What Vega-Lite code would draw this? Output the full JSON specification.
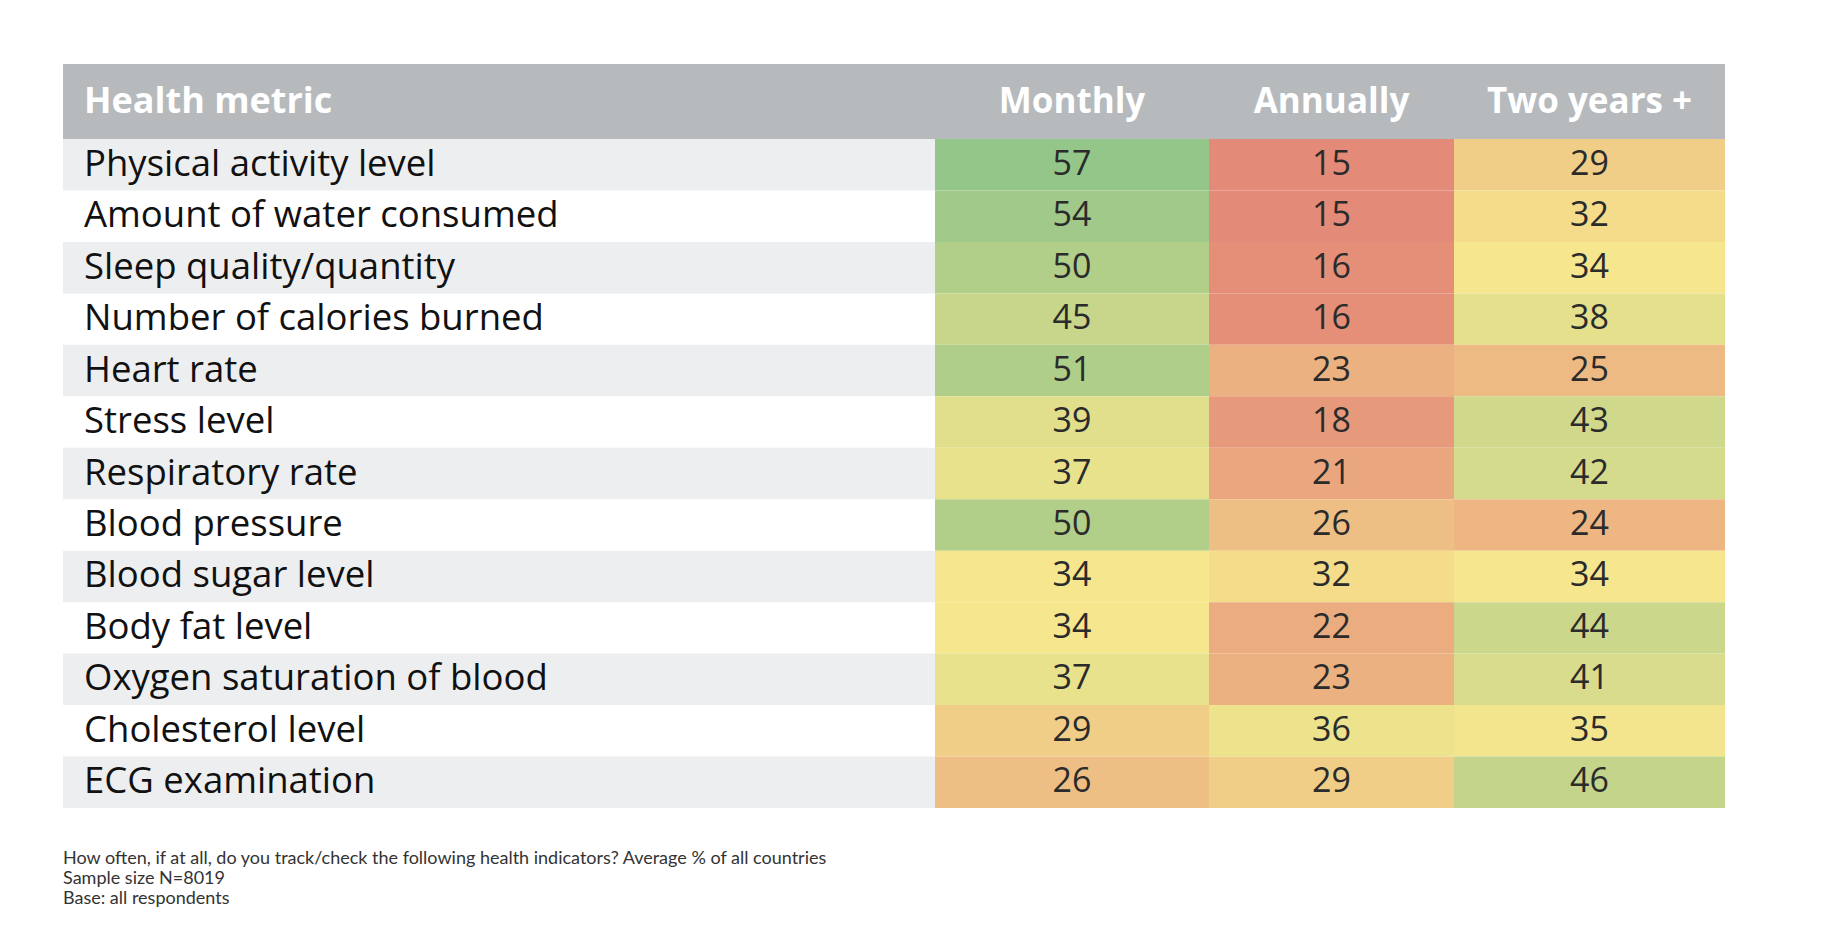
{
  "$schema": "https://vega.github.io/schema/vega-lite/v6.json",
  "padding": {"left": 63, "top": 64, "right": 0, "bottom": 0},
  "background": "white",
  "config": {"view": {"stroke": null}, "concat": {"spacing": 0}},
  "title": {
    "text": ["How often, if at all, do you track/check the following health indicators? Average % of all countries", "Sample size N=8019", "Base: all respondents"],
    "orient": "bottom",
    "anchor": "start",
    "font": "Lato",
    "fontSize": 18,
    "fontWeight": "normal",
    "color": "#333333",
    "lineHeight": 20,
    "offset": 42
  },
  "datasets": {
    "cells": [
      {"metric": "Physical activity level", "period": "Monthly", "value": 57},
      {"metric": "Physical activity level", "period": "Annually", "value": 15},
      {"metric": "Physical activity level", "period": "Two years +", "value": 29},
      {"metric": "Amount of water consumed", "period": "Monthly", "value": 54},
      {"metric": "Amount of water consumed", "period": "Annually", "value": 15},
      {"metric": "Amount of water consumed", "period": "Two years +", "value": 32},
      {"metric": "Sleep quality/quantity", "period": "Monthly", "value": 50},
      {"metric": "Sleep quality/quantity", "period": "Annually", "value": 16},
      {"metric": "Sleep quality/quantity", "period": "Two years +", "value": 34},
      {"metric": "Number of calories burned", "period": "Monthly", "value": 45},
      {"metric": "Number of calories burned", "period": "Annually", "value": 16},
      {"metric": "Number of calories burned", "period": "Two years +", "value": 38},
      {"metric": "Heart rate", "period": "Monthly", "value": 51},
      {"metric": "Heart rate", "period": "Annually", "value": 23},
      {"metric": "Heart rate", "period": "Two years +", "value": 25},
      {"metric": "Stress level", "period": "Monthly", "value": 39},
      {"metric": "Stress level", "period": "Annually", "value": 18},
      {"metric": "Stress level", "period": "Two years +", "value": 43},
      {"metric": "Respiratory rate", "period": "Monthly", "value": 37},
      {"metric": "Respiratory rate", "period": "Annually", "value": 21},
      {"metric": "Respiratory rate", "period": "Two years +", "value": 42},
      {"metric": "Blood pressure", "period": "Monthly", "value": 50},
      {"metric": "Blood pressure", "period": "Annually", "value": 26},
      {"metric": "Blood pressure", "period": "Two years +", "value": 24},
      {"metric": "Blood sugar level", "period": "Monthly", "value": 34},
      {"metric": "Blood sugar level", "period": "Annually", "value": 32},
      {"metric": "Blood sugar level", "period": "Two years +", "value": 34},
      {"metric": "Body fat level", "period": "Monthly", "value": 34},
      {"metric": "Body fat level", "period": "Annually", "value": 22},
      {"metric": "Body fat level", "period": "Two years +", "value": 44},
      {"metric": "Oxygen saturation of blood", "period": "Monthly", "value": 37},
      {"metric": "Oxygen saturation of blood", "period": "Annually", "value": 23},
      {"metric": "Oxygen saturation of blood", "period": "Two years +", "value": 41},
      {"metric": "Cholesterol level", "period": "Monthly", "value": 29},
      {"metric": "Cholesterol level", "period": "Annually", "value": 36},
      {"metric": "Cholesterol level", "period": "Two years +", "value": 35},
      {"metric": "ECG examination", "period": "Monthly", "value": 26},
      {"metric": "ECG examination", "period": "Annually", "value": 29},
      {"metric": "ECG examination", "period": "Two years +", "value": 46}
    ]
  },
  "vconcat": [
    {
      "hconcat": [
        {
          "width": 872, "height": 75,
          "view": {"fill": "#b6babd"},
          "data": {"values": [{"h": "Health metric"}]},
          "mark": {"type": "text", "align": "left", "baseline": "middle", "dx": 21, "font": "Open Sans", "fontWeight": "bold", "fontSize": 36, "color": "white"},
          "encoding": {
            "x": {"datum": 0, "type": "quantitative", "scale": {"domain": [0, 1]}, "axis": null},
            "text": {"field": "h"}
          }
        },
        {
          "width": 274, "height": 75,
          "view": {"fill": "#b6babd"},
          "data": {"values": [{"h": "Monthly"}]},
          "mark": {"type": "text", "align": "center", "baseline": "middle", "font": "Open Sans", "fontWeight": "bold", "fontSize": 35, "color": "white"},
          "encoding": {"text": {"field": "h"}}
        },
        {
          "width": 245, "height": 75,
          "view": {"fill": "#b6babd"},
          "data": {"values": [{"h": "Annually"}]},
          "mark": {"type": "text", "align": "center", "baseline": "middle", "font": "Open Sans", "fontWeight": "bold", "fontSize": 35, "color": "white"},
          "encoding": {"text": {"field": "h"}}
        },
        {
          "width": 271, "height": 75,
          "view": {"fill": "#b6babd"},
          "data": {"values": [{"h": "Two years +"}]},
          "mark": {"type": "text", "align": "center", "baseline": "middle", "font": "Open Sans", "fontWeight": "bold", "fontSize": 35, "color": "white"},
          "encoding": {"text": {"field": "h"}}
        }
      ]
    },
    {
      "hconcat": [
        {
          "width": 872, "height": 669,
          "data": {"name": "cells"},
          "transform": [{"filter": "datum.period === 'Monthly'"}],
          "encoding": {
            "y": {"field": "metric", "type": "nominal", "axis": null,
                  "sort": ["Physical activity level", "Amount of water consumed", "Sleep quality/quantity", "Number of calories burned", "Heart rate", "Stress level", "Respiratory rate", "Blood pressure", "Blood sugar level", "Body fat level", "Oxygen saturation of blood", "Cholesterol level", "ECG examination"],
                  "scale": {"paddingInner": 0, "paddingOuter": 0}}
          },
          "layer": [
            {
              "transform": [{"filter": {"field": "metric", "oneOf": ["Physical activity level", "Sleep quality/quantity", "Heart rate", "Respiratory rate", "Blood sugar level", "Oxygen saturation of blood", "ECG examination"]}}],
              "mark": {"type": "rect", "color": "#edeef0"}
            },
            {
              "mark": {"type": "text", "align": "left", "baseline": "middle", "dx": 21, "font": "Open Sans", "fontSize": 36.5, "color": "#111111"},
              "encoding": {
                "x": {"datum": 0, "type": "quantitative", "scale": {"domain": [0, 1]}, "axis": null},
                "text": {"field": "metric"}
              }
            }
          ]
        },
        {
          "width": 274, "height": 669,
          "data": {"name": "cells"},
          "transform": [{"filter": "datum.period === 'Monthly'"}],
          "encoding": {
            "y": {"field": "metric", "type": "nominal", "axis": null,
                  "sort": ["Physical activity level", "Amount of water consumed", "Sleep quality/quantity", "Number of calories burned", "Heart rate", "Stress level", "Respiratory rate", "Blood pressure", "Blood sugar level", "Body fat level", "Oxygen saturation of blood", "Cholesterol level", "ECG examination"],
                  "scale": {"paddingInner": 0, "paddingOuter": 0}}
          },
          "layer": [
            {
              "mark": {"type": "rect"},
              "encoding": {"color": {"field": "value", "type": "quantitative", "legend": null,
                "scale": {"domain": [15, 34, 57], "range": ["#e48a78", "#f6e68d", "#94c589"], "interpolate": "rgb"}}}
            },
            {
              "mark": {"type": "text", "align": "center", "baseline": "middle", "font": "Open Sans", "fontSize": 34, "color": "#2b2b2b"},
              "encoding": {"text": {"field": "value", "type": "quantitative"}}
            }
          ]
        },
        {
          "width": 245, "height": 669,
          "data": {"name": "cells"},
          "transform": [{"filter": "datum.period === 'Annually'"}],
          "encoding": {
            "y": {"field": "metric", "type": "nominal", "axis": null,
                  "sort": ["Physical activity level", "Amount of water consumed", "Sleep quality/quantity", "Number of calories burned", "Heart rate", "Stress level", "Respiratory rate", "Blood pressure", "Blood sugar level", "Body fat level", "Oxygen saturation of blood", "Cholesterol level", "ECG examination"],
                  "scale": {"paddingInner": 0, "paddingOuter": 0}}
          },
          "layer": [
            {
              "mark": {"type": "rect"},
              "encoding": {"color": {"field": "value", "type": "quantitative", "legend": null,
                "scale": {"domain": [15, 34, 57], "range": ["#e48a78", "#f6e68d", "#94c589"], "interpolate": "rgb"}}}
            },
            {
              "mark": {"type": "text", "align": "center", "baseline": "middle", "font": "Open Sans", "fontSize": 34, "color": "#2b2b2b"},
              "encoding": {"text": {"field": "value", "type": "quantitative"}}
            }
          ]
        },
        {
          "width": 271, "height": 669,
          "data": {"name": "cells"},
          "transform": [{"filter": "datum.period === 'Two years +'"}],
          "encoding": {
            "y": {"field": "metric", "type": "nominal", "axis": null,
                  "sort": ["Physical activity level", "Amount of water consumed", "Sleep quality/quantity", "Number of calories burned", "Heart rate", "Stress level", "Respiratory rate", "Blood pressure", "Blood sugar level", "Body fat level", "Oxygen saturation of blood", "Cholesterol level", "ECG examination"],
                  "scale": {"paddingInner": 0, "paddingOuter": 0}}
          },
          "layer": [
            {
              "mark": {"type": "rect"},
              "encoding": {"color": {"field": "value", "type": "quantitative", "legend": null,
                "scale": {"domain": [15, 34, 57], "range": ["#e48a78", "#f6e68d", "#94c589"], "interpolate": "rgb"}}}
            },
            {
              "mark": {"type": "text", "align": "center", "baseline": "middle", "font": "Open Sans", "fontSize": 34, "color": "#2b2b2b"},
              "encoding": {"text": {"field": "value", "type": "quantitative"}}
            }
          ]
        }
      ]
    }
  ]
}
